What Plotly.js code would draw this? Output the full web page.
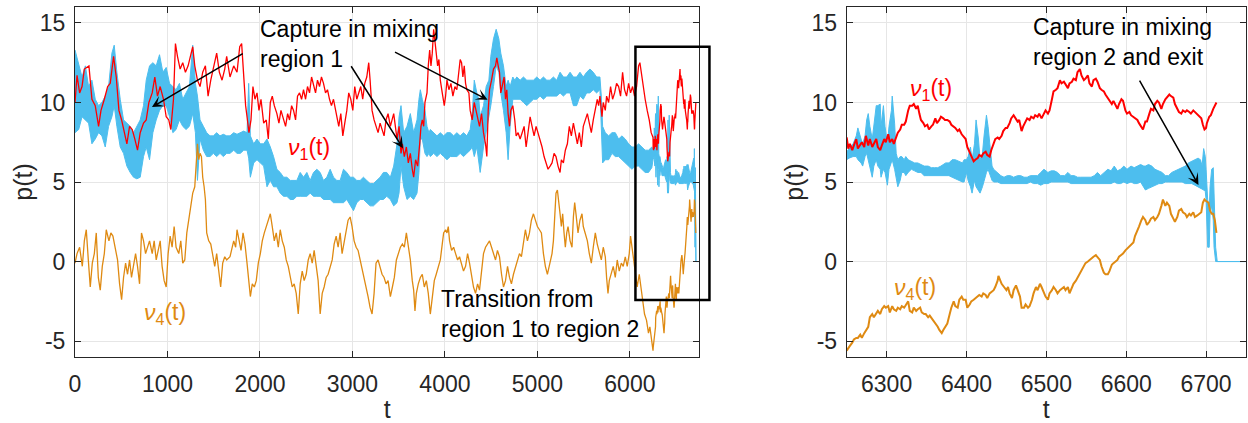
<!DOCTYPE html>
<html>
<head>
<meta charset="utf-8">
<script src="https://cdn.plot.ly/plotly-3.0.1.min.js"></script>
<style>html,body{margin:0;padding:0;background:#fff;}#chart{width:1248px;height:423px;}</style>
</head>
<body>
<div id="chart"></div>
<script>
// ---- data (t, p) ----
const leftRed = [[0,10.0],[22,11.7],[50,10.6],[76,11.0],[101,12.1],[129,12.2],[151,12.3],[183,10.2],[219,9.8],[255,8.5],[281,9.5],[317,10.2],[353,11.0],[381,11.2],[417,12.9],[446,11.6],[475,9.5],[504,8.9],[532,8.1],[561,7.4],[590,8.5],[619,8.3],[647,7.7],[676,7.0],[705,8.1],[741,8.7],[770,8.9],[799,10.0],[835,10.6],[863,11.6],[892,10.4],[921,11.0],[957,10.2],[986,9.1],[1014,8.9],[1036,8.3],[1065,10.2],[1086,13.7],[1108,12.9],[1137,12.1],[1165,12.5],[1194,11.9],[1223,12.3],[1252,12.9],[1273,13.5],[1295,12.3],[1324,11.4],[1352,11.0],[1381,11.9],[1410,12.3],[1439,10.4],[1468,11.4],[1504,12.3],[1532,13.1],[1561,11.9],[1590,11.4],[1619,12.1],[1640,12.9],[1676,11.6],[1716,12.3],[1752,11.9],[1781,13.5],[1802,13.7],[1817,12.3],[1831,11.0],[1845,9.8],[1860,9.1],[1881,8.1],[1903,8.9],[1924,11.0],[1946,10.2],[1968,10.6],[1989,9.5],[2011,10.2],[2040,8.7],[2068,8.9],[2090,7.7],[2112,10.0],[2133,10.4],[2155,9.8],[2183,9.3],[2205,8.7],[2227,9.5],[2255,8.9],[2277,8.5],[2299,9.3],[2320,8.9],[2342,9.8],[2363,9.5],[2385,8.9],[2406,10.4],[2428,10.6],[2450,10.2],[2471,10.8],[2493,10.2],[2514,11.0],[2536,10.6],[2558,11.6],[2579,11.0],[2601,10.6],[2622,11.4],[2644,11.0],[2665,11.6],[2687,11.2],[2709,10.6],[2730,10.8],[2752,10.2],[2773,9.8],[2795,10.2],[2817,9.5],[2831,9.1],[2852,8.5],[2874,9.3],[2896,7.9],[2917,8.7],[2939,9.5],[2960,10.6],[2982,10.2],[3004,9.5],[3025,11.0],[3047,10.2],[3068,10.6],[3090,11.0],[3111,10.2],[3133,11.2],[3155,11.6],[3176,12.5],[3191,11.4],[3212,9.5],[3234,8.9],[3255,8.5],[3277,8.1],[3299,8.7],[3320,8.3],[3342,7.9],[3363,8.9],[3385,9.3],[3410,8.5],[3446,9.3],[3482,7.7],[3504,8.5],[3525,6.8],[3540,7.4],[3561,6.6],[3583,7.2],[3604,6.2],[3626,6.8],[3647,5.8],[3662,5.3],[3683,6.4],[3705,6.0],[3727,7.4],[3741,8.5],[3755,8.9],[3770,8.5],[3784,10.0],[3806,10.6],[3820,12.3],[3835,13.3],[3849,12.3],[3863,13.1],[3878,14.6],[3892,13.7],[3906,12.9],[3921,12.3],[3935,12.7],[3950,11.4],[3971,10.6],[3993,9.8],[4007,10.4],[4022,11.4],[4043,10.8],[4065,11.2],[4086,10.4],[4108,11.0],[4129,10.8],[4151,11.9],[4165,12.7],[4180,12.5],[4194,11.6],[4209,12.3],[4223,11.2],[4237,10.8],[4259,10.6],[4273,9.5],[4295,8.9],[4317,10.0],[4338,9.5],[4360,8.9],[4374,8.5],[4396,9.3],[4417,8.1],[4439,7.4],[4453,6.6],[4468,9.5],[4482,10.8],[4504,11.4],[4525,12.1],[4547,12.3],[4561,12.8],[4576,12.3],[4590,11.9],[4604,10.6],[4619,11.0],[4640,11.6],[4655,10.2],[4669,10.8],[4683,9.3],[4698,8.5],[4712,9.5],[4734,9.8],[4755,8.9],[4770,7.9],[4791,8.1],[4813,7.7],[4835,8.1],[4856,8.5],[4878,7.2],[4899,8.1],[4921,9.1],[4942,8.5],[4964,7.9],[4986,8.5],[5007,8.1],[5029,7.7],[5050,7.2],[5072,6.6],[5093,6.2],[5115,5.8],[5137,6.0],[5158,6.2],[5180,6.8],[5201,6.6],[5223,6.0],[5245,5.6],[5259,6.4],[5281,6.2],[5302,7.0],[5324,7.4],[5345,8.5],[5367,7.9],[5389,8.7],[5410,8.1],[5432,7.4],[5453,8.1],[5475,7.2],[5496,8.5],[5518,8.9],[5540,9.3],[5561,8.7],[5583,8.1],[5604,8.9],[5626,9.5],[5647,10.2],[5662,9.8],[5676,10.4],[5698,9.1],[5712,10.0],[5734,9.5],[5748,10.4],[5770,10.0],[5791,11.0],[5813,10.2],[5835,10.6],[5856,11.2],[5878,11.0],[5899,10.4],[5921,11.9],[5942,10.8],[5964,10.4],[5986,11.2],[6007,10.6],[6029,11.0],[6050,10.4],[6072,11.0],[6094,12.3],[6108,12.5],[6122,11.9],[6144,10.8],[6165,10.2],[6187,9.5],[6209,8.9],[6230,8.1]];

const leftOrange = [[0,-0.1],[22,0.5],[50,0.9],[79,-0.3],[101,1.3],[122,2.0],[144,0.1],[165,-1.6],[187,-0.1],[209,0.5],[230,1.8],[252,-1.0],[273,-1.8],[295,-0.3],[317,0.5],[338,2.0],[367,1.3],[388,1.8],[410,1.6],[432,0.9],[460,0.1],[482,-1.4],[504,-2.4],[525,-1.0],[547,-0.1],[568,-0.8],[590,0.1],[611,-1.0],[633,-0.3],[655,0.5],[676,-0.3],[698,-1.4],[719,1.8],[741,1.3],[763,0.5],[784,0.9],[806,1.3],[835,0.5],[856,1.3],[878,0.1],[899,0.7],[921,1.3],[942,-0.3],[964,-1.2],[986,-1.6],[1007,0.5],[1029,1.6],[1050,0.9],[1072,2.2],[1093,0.9],[1122,0.5],[1144,1.3],[1165,-0.1],[1187,0.1],[1209,1.8],[1230,2.6],[1252,3.7],[1273,4.3],[1295,4.7],[1309,6.0],[1324,7.4],[1338,6.4],[1352,6.8],[1367,6.6],[1381,5.3],[1396,4.7],[1410,3.9],[1424,1.8],[1446,1.3],[1468,1.1],[1489,0.5],[1511,-0.3],[1532,0.5],[1554,-0.8],[1575,-1.6],[1597,-0.1],[1619,0.3],[1640,0.1],[1676,0.3],[1716,1.3],[1737,0.9],[1752,2.0],[1773,1.3],[1795,0.7],[1817,1.8],[1838,1.1],[1860,-0.1],[1881,-1.2],[1896,-2.2],[1917,-1.4],[1939,-1.6],[1960,-1.2],[1982,-0.1],[2004,0.5],[2025,1.3],[2047,1.8],[2068,2.2],[2090,2.6],[2112,3.0],[2133,2.2],[2155,1.3],[2176,1.8],[2198,0.9],[2219,2.0],[2241,1.3],[2263,0.9],[2284,0.1],[2306,-0.3],[2327,-1.0],[2349,-1.6],[2370,-1.4],[2392,-2.0],[2414,-3.3],[2435,-1.4],[2457,-0.6],[2478,-1.2],[2500,-0.8],[2522,0.1],[2543,0.5],[2565,-0.1],[2586,0.7],[2608,-0.3],[2629,-1.2],[2651,-3.3],[2673,-2.0],[2694,-1.6],[2716,-1.0],[2737,-0.8],[2759,-0.3],[2781,0.1],[2802,1.1],[2824,1.6],[2845,0.9],[2867,1.8],[2888,0.5],[2910,1.3],[2932,2.0],[2953,2.6],[2975,2.8],[2996,2.2],[3018,1.3],[3040,0.9],[3061,0.7],[3083,0.1],[3104,-0.3],[3126,-1.0],[3148,-1.6],[3169,-2.2],[3191,-2.9],[3212,-3.3],[3234,-2.0],[3255,-0.1],[3277,0.1],[3299,-0.3],[3320,-0.8],[3342,-1.0],[3363,-1.4],[3385,-1.2],[3410,-2.2],[3432,-1.6],[3453,-1.0],[3475,0.1],[3496,0.5],[3518,0.9],[3540,1.1],[3561,0.9],[3583,1.8],[3604,0.9],[3626,0.1],[3647,-1.2],[3662,-1.8],[3676,-3.1],[3691,-2.0],[3712,-1.4],[3734,-1.0],[3755,-0.8],[3777,-1.6],[3799,-1.2],[3820,-2.0],[3842,-3.3],[3863,-2.4],[3885,-1.2],[3906,-0.8],[3928,-0.3],[3950,0.1],[3971,1.1],[3986,1.8],[4007,2.0],[4022,1.8],[4036,2.2],[4050,1.3],[4072,0.7],[4094,0.9],[4115,0.5],[4137,0.1],[4158,0.3],[4180,-0.1],[4201,-0.6],[4223,-0.3],[4245,0.5],[4266,-0.1],[4288,-1.0],[4309,-1.6],[4331,-2.0],[4353,-1.4],[4374,-1.8],[4396,-0.8],[4417,0.5],[4439,0.9],[4460,1.1],[4482,1.3],[4504,0.9],[4525,0.5],[4547,0.1],[4568,0.7],[4590,0.3],[4612,-0.8],[4633,-1.6],[4655,-1.2],[4677,-0.3],[4698,-1.0],[4719,-1.4],[4741,-0.8],[4763,-0.3],[4784,0.1],[4806,0.5],[4827,0.3],[4849,1.3],[4870,2.0],[4892,1.3],[4914,1.8],[4935,2.6],[4957,3.0],[4978,2.6],[5000,2.2],[5022,2.0],[5043,1.8],[5065,0.5],[5086,-0.3],[5108,-0.8],[5137,-0.1],[5158,0.5],[5173,1.3],[5187,2.6],[5201,4.3],[5216,4.5],[5230,3.9],[5245,3.0],[5259,2.2],[5273,3.0],[5288,1.8],[5302,0.9],[5317,1.8],[5331,2.2],[5353,1.3],[5374,0.9],[5389,2.8],[5403,3.7],[5417,3.0],[5439,1.8],[5460,2.6],[5482,3.0],[5496,2.2],[5518,1.8],[5540,1.3],[5561,0.5],[5583,-0.1],[5604,0.9],[5626,1.8],[5647,1.1],[5669,0.5],[5691,0.1],[5712,0.9],[5734,0.3],[5748,-1.0],[5763,-2.0],[5777,-1.2],[5799,-0.8],[5820,-0.3],[5842,-1.0],[5863,0.1],[5885,-0.6],[5907,-0.1],[5928,-0.3],[5950,0.3],[5971,-0.3],[5993,0.5],[6007,1.6],[6022,0.9],[6043,-0.1],[6065,-1.0],[6079,-1.6],[6101,-0.8],[6115,-1.4],[6137,-2.7],[6158,-3.3],[6180,-3.7],[6201,-4.5],[6216,-4.1],[6237,-5.2]];

// blue: [t, upper edge, lower edge] of the fast-oscillating band
const leftBlue = [[0,13.3,8.1],[40,12.3,8.3],[76,11.6,9.1],[112,12.3,8.9],[147,11.0,8.7],[183,11.4,7.4],[219,10.2,7.7],[255,9.8,8.1],[291,10.0,7.9],[327,10.4,7.2],[363,11.0,8.5],[399,13.1,9.1],[424,13.6,9.8],[453,11.9,8.5],[489,10.2,7.2],[525,8.9,6.8],[561,8.7,6.0],[597,8.5,5.6],[633,8.1,5.3],[669,8.5,5.2],[705,8.9,5.3],[741,9.8,6.6],[770,11.4,7.2],[806,12.3,6.4],[842,12.5,8.1],[878,12.3,8.9],[914,13.0,9.5],[950,11.9,9.8],[986,12.2,9.8],[1022,11.2,9.1],[1058,11.0,8.1],[1093,10.8,8.3],[1129,11.2,8.9],[1165,10.2,8.5],[1201,10.6,8.3],[1237,11.0,8.5],[1273,13.6,9.3],[1302,11.2,8.1],[1324,10.4,5.1],[1352,8.9,7.7],[1388,8.5,7.0],[1424,8.1,6.6],[1460,7.9,6.6],[1496,7.9,6.8],[1532,8.1,6.6],[1568,7.9,6.8],[1604,8.0,6.6],[1640,7.9,6.8],[1676,7.9,6.8],[1716,8.1,7.0],[1752,8.0,6.8],[1788,8.1,6.8],[1824,8.2,7.0],[1860,8.1,7.0],[1878,11.2,6.5],[1896,7.9,5.3],[1932,7.4,6.2],[1968,7.7,6.4],[2004,7.4,6.2],[2040,7.4,6.0],[2076,7.7,4.7],[2112,7.2,5.1],[2147,6.6,4.7],[2183,5.8,4.7],[2219,5.6,4.3],[2255,5.3,4.1],[2291,5.3,4.1],[2327,5.1,3.9],[2363,5.1,3.9],[2399,5.1,4.1],[2435,5.6,4.1],[2471,5.3,4.1],[2507,5.6,4.1],[2543,5.1,4.3],[2579,5.6,4.1],[2615,5.8,4.1],[2651,5.6,4.1],[2687,5.1,3.9],[2723,5.3,3.9],[2759,5.8,3.9],[2795,5.3,3.7],[2831,5.1,3.7],[2867,5.1,3.7],[2903,5.8,3.7],[2939,5.6,3.9],[2975,5.3,3.5],[3011,5.3,3.2],[3047,5.1,3.7],[3083,5.1,3.9],[3119,5.3,3.9],[3155,5.1,3.7],[3191,4.9,3.5],[3227,4.9,3.5],[3263,5.1,3.7],[3299,5.3,3.9],[3335,5.6,3.9],[3371,5.6,4.1],[3410,5.3,3.9],[3446,6.0,3.5],[3482,7.4,3.7],[3504,9.1,4.3],[3525,9.8,6.0],[3554,8.1,4.7],[3590,8.5,3.9],[3626,9.3,4.1],[3662,8.1,3.9],[3698,8.9,4.3],[3719,10.2,5.6],[3734,10.8,7.7],[3755,10.2,7.7],[3784,9.5,6.8],[3806,8.5,6.6],[3827,8.1,6.8],[3842,8.3,6.6],[3878,8.1,6.8],[3914,7.9,6.6],[3950,8.1,6.8],[3986,7.9,6.6],[4022,8.1,6.4],[4058,8.1,6.6],[4094,7.9,6.6],[4129,8.1,6.6],[4165,7.9,6.8],[4201,8.1,6.6],[4237,7.9,6.8],[4273,8.3,7.0],[4295,9.3,7.2],[4317,11.4,6.6],[4345,10.6,7.2],[4367,10.2,6.0],[4381,9.1,5.6],[4417,9.8,7.2],[4446,11.0,8.1],[4475,11.4,9.1],[4496,12.9,9.8],[4525,14.0,11.0],[4554,14.6,12.3],[4583,14.0,11.9],[4604,13.1,10.6],[4633,12.3,9.5],[4662,11.0,8.1],[4683,11.4,6.4],[4705,11.0,8.5],[4734,11.6,10.2],[4755,11.4,10.2],[4777,11.6,10.2],[4813,11.4,10.2],[4849,11.6,10.0],[4885,11.4,9.8],[4921,11.4,10.0],[4957,11.4,10.2],[4993,11.6,10.2],[5029,11.4,10.4],[5065,11.6,10.2],[5101,11.4,10.4],[5137,11.4,10.4],[5173,11.6,10.4],[5209,11.4,10.4],[5245,11.9,10.6],[5281,11.6,10.4],[5317,11.6,10.6],[5353,11.9,10.6],[5389,11.6,9.8],[5424,11.6,9.8],[5460,11.9,10.4],[5496,11.6,10.2],[5532,11.9,10.6],[5568,12.1,10.6],[5604,11.9,10.8],[5640,11.6,10.6],[5676,11.6,10.8],[5691,10.4,8.1],[5705,8.5,6.2],[5734,8.1,6.4],[5770,7.9,6.4],[5806,8.1,6.8],[5842,8.1,6.6],[5878,7.7,6.6],[5914,7.9,6.4],[5950,7.7,6.2],[5986,7.4,6.0],[6022,7.2,5.8],[6058,7.2,6.0],[6094,7.4,6.0],[6129,7.2,5.8],[6165,7.0,5.6],[6201,7.0,5.6],[6237,7.2,5.9]];

const rightRed = [[6250,7.8],[6252,7.1],[6254,7.4],[6257,7.0],[6259,7.3],[6262,7.7],[6264,7.1],[6267,7.3],[6269,7.5],[6272,7.2],[6274,7.9],[6277,7.3],[6279,7.7],[6282,7.2],[6284,7.4],[6287,7.7],[6289,7.2],[6292,7.0],[6294,7.3],[6297,7.7],[6299,7.5],[6302,8.0],[6304,7.5],[6307,7.7],[6309,7.4],[6312,7.9],[6314,8.1],[6317,8.3],[6319,8.6],[6322,8.6],[6324,8.8],[6327,9.5],[6329,9.8],[6332,9.8],[6334,9.9],[6337,9.6],[6339,9.8],[6341,9.3],[6343,8.9],[6346,8.7],[6348,8.5],[6351,8.6],[6353,8.3],[6356,8.5],[6358,8.6],[6361,9.0],[6363,8.7],[6366,8.9],[6368,9.1],[6371,9.0],[6373,8.9],[6376,8.9],[6379,8.8],[6381,8.6],[6384,8.5],[6386,8.4],[6389,8.2],[6391,8.3],[6394,8.0],[6396,7.9],[6399,7.7],[6401,7.2],[6404,6.9],[6406,6.7],[6409,6.3],[6411,6.4],[6414,6.5],[6416,6.7],[6419,6.6],[6421,6.8],[6424,6.9],[6426,6.7],[6429,6.6],[6431,7.0],[6434,7.5],[6436,7.7],[6439,7.8],[6441,7.7],[6444,7.9],[6446,8.2],[6449,8.4],[6451,8.4],[6454,8.7],[6456,9.0],[6459,9.2],[6461,9.0],[6464,8.8],[6466,8.9],[6469,8.2],[6471,8.5],[6474,8.8],[6476,9.0],[6479,8.9],[6481,9.1],[6484,9.0],[6486,9.2],[6489,9.1],[6491,9.3],[6494,9.0],[6496,9.2],[6499,9.5],[6502,9.3],[6504,9.5],[6507,10.2],[6509,10.7],[6512,10.8],[6514,10.9],[6517,11.4],[6519,11.2],[6522,11.3],[6524,11.1],[6527,10.9],[6529,11.2],[6532,11.3],[6534,11.5],[6537,11.4],[6539,11.9],[6542,12.1],[6544,11.7],[6547,11.4],[6549,11.5],[6552,11.7],[6554,11.2],[6557,11.0],[6559,11.4],[6562,11.5],[6564,11.3],[6567,10.9],[6569,10.8],[6572,10.7],[6574,10.5],[6577,10.3],[6579,10.1],[6582,9.9],[6584,10.1],[6587,9.8],[6589,9.6],[6591,9.9],[6594,10.2],[6596,10.1],[6599,9.5],[6601,9.3],[6604,9.4],[6606,9.2],[6609,9.1],[6611,9.0],[6614,8.9],[6616,8.7],[6619,8.5],[6621,8.3],[6624,8.8],[6626,8.8],[6629,9.3],[6631,9.6],[6634,9.5],[6636,9.9],[6639,10.1],[6641,10.0],[6644,9.6],[6646,9.9],[6649,10.2],[6651,10.3],[6654,10.5],[6656,10.4],[6659,10.3],[6661,9.9],[6664,9.6],[6666,9.4],[6669,9.3],[6671,9.5],[6674,9.4],[6676,9.5],[6679,9.4],[6681,9.3],[6684,9.5],[6686,9.4],[6689,9.3],[6691,9.2],[6694,9.0],[6696,8.6],[6698,8.3],[6700,8.4],[6701,8.7],[6704,9.1],[6706,9.2],[6709,9.6],[6711,9.8],[6713,10.0]];

const rightOrange = [[6250,-5.6],[6252,-5.4],[6254,-5.3],[6257,-5.1],[6259,-4.9],[6262,-4.8],[6264,-4.8],[6267,-4.6],[6269,-4.8],[6272,-4.5],[6274,-4.3],[6277,-4.1],[6279,-3.5],[6282,-3.3],[6284,-3.5],[6287,-3.3],[6289,-3.1],[6292,-3.3],[6294,-3.0],[6297,-2.8],[6299,-2.9],[6302,-2.8],[6304,-3.2],[6307,-2.8],[6309,-3.0],[6312,-3.1],[6314,-2.9],[6317,-3.0],[6319,-2.8],[6322,-2.9],[6324,-2.7],[6327,-2.5],[6329,-3.1],[6332,-3.2],[6334,-2.9],[6337,-3.1],[6339,-3.0],[6342,-2.9],[6344,-3.2],[6347,-3.3],[6349,-3.3],[6352,-3.5],[6354,-3.4],[6357,-3.6],[6359,-3.7],[6362,-3.9],[6364,-4.1],[6366,-4.3],[6369,-4.5],[6371,-4.3],[6374,-4.0],[6376,-3.9],[6379,-3.3],[6381,-2.9],[6384,-2.5],[6386,-2.8],[6389,-2.9],[6391,-2.4],[6394,-2.2],[6396,-2.4],[6399,-2.4],[6401,-2.9],[6404,-2.7],[6406,-2.5],[6409,-2.4],[6411,-2.3],[6414,-2.2],[6416,-2.1],[6419,-2.2],[6421,-2.0],[6424,-2.1],[6426,-2.3],[6429,-2.0],[6431,-1.9],[6434,-1.8],[6436,-1.6],[6439,-1.2],[6440,-0.9],[6442,-1.2],[6444,-1.4],[6447,-1.6],[6450,-1.8],[6452,-1.6],[6454,-2.0],[6457,-2.3],[6459,-1.8],[6462,-1.5],[6464,-1.8],[6467,-2.2],[6469,-2.9],[6472,-2.9],[6474,-2.7],[6477,-2.9],[6479,-2.8],[6482,-2.4],[6484,-2.0],[6487,-1.6],[6489,-1.8],[6492,-1.4],[6494,-1.6],[6497,-2.0],[6499,-2.2],[6502,-2.4],[6504,-2.0],[6507,-1.8],[6509,-1.6],[6512,-1.8],[6514,-2.0],[6517,-1.8],[6519,-1.7],[6522,-1.6],[6524,-1.8],[6527,-1.6],[6529,-2.0],[6532,-1.6],[6534,-1.4],[6537,-1.2],[6539,-1.0],[6542,-0.8],[6544,-0.6],[6547,-0.3],[6549,-0.1],[6552,0.0],[6554,0.1],[6557,0.2],[6559,0.3],[6562,0.4],[6564,0.3],[6567,0.1],[6569,-0.3],[6572,-0.7],[6574,-0.8],[6577,-0.8],[6579,-0.6],[6582,-0.2],[6584,-0.1],[6587,0.0],[6589,0.1],[6591,0.3],[6594,0.4],[6596,0.5],[6599,0.7],[6601,0.8],[6604,0.9],[6606,1.0],[6609,1.2],[6611,1.6],[6614,1.9],[6616,2.2],[6619,2.6],[6621,2.8],[6624,2.6],[6626,2.3],[6629,2.5],[6631,2.7],[6634,2.8],[6636,2.6],[6639,2.8],[6641,3.0],[6644,3.5],[6646,3.9],[6649,3.5],[6651,3.7],[6654,3.5],[6656,3.0],[6659,2.7],[6661,2.5],[6664,2.8],[6666,3.2],[6669,3.3],[6671,3.1],[6674,3.0],[6676,2.8],[6679,3.0],[6681,2.9],[6684,3.1],[6686,2.8],[6689,2.9],[6691,3.0],[6694,3.1],[6696,3.7],[6698,3.9],[6700,3.8],[6703,3.7],[6705,3.2],[6707,3.0],[6709,3.0],[6711,2.6],[6713,1.8]];

const rightBlue = [[6250,6.9,6.4],[6253,7.1,6.5],[6258,7.4,6.6],[6262,7.9,6.6],[6264,8.4,6.4],[6268,7.7,6.2],[6270,7.4,6.0],[6273,7.9,6.6],[6275,8.9,6.8],[6277,9.3,6.4],[6279,8.5,6.0],[6282,7.7,5.3],[6284,8.5,6.0],[6287,9.8,6.4],[6289,9.8,6.0],[6292,9.9,5.8],[6293,8.5,5.3],[6296,9.8,5.8],[6298,8.5,5.6],[6301,7.4,4.8],[6303,8.5,5.8],[6306,9.5,6.2],[6307,10.4,6.4],[6310,8.7,5.8],[6312,6.8,5.1],[6314,6.4,4.7],[6317,6.6,5.1],[6319,6.6,5.6],[6322,6.4,5.6],[6324,6.6,5.4],[6327,6.4,5.6],[6331,6.3,5.8],[6335,6.2,5.7],[6339,6.2,5.6],[6343,6.1,5.6],[6347,6.0,5.4],[6352,6.0,5.4],[6356,5.9,5.4],[6360,5.9,5.4],[6364,5.9,5.4],[6368,6.0,5.4],[6372,6.1,5.4],[6374,6.2,5.4],[6378,6.2,5.4],[6382,6.4,5.3],[6386,6.4,5.2],[6390,6.3,5.1],[6395,6.2,5.0],[6397,6.4,5.0],[6400,6.4,5.6],[6402,6.6,5.1],[6405,7.2,4.7],[6407,6.4,4.3],[6410,7.4,5.1],[6412,8.9,4.7],[6415,7.7,4.5],[6417,6.4,4.3],[6420,6.8,4.7],[6422,7.9,5.1],[6425,9.2,5.6],[6427,8.5,5.8],[6430,6.8,5.3],[6432,6.0,5.1],[6434,5.8,5.0],[6439,5.6,5.0],[6443,5.4,4.9],[6447,5.3,4.9],[6451,5.4,4.9],[6455,5.4,4.9],[6459,5.3,4.9],[6464,5.4,4.9],[6468,5.4,4.9],[6472,5.3,4.9],[6476,5.3,4.9],[6480,5.4,5.0],[6484,5.4,4.9],[6489,5.4,4.9],[6493,5.6,4.8],[6497,5.8,4.9],[6502,5.6,4.9],[6506,5.7,5.0],[6510,5.7,5.0],[6514,5.6,5.0],[6518,5.4,5.0],[6523,5.4,5.0],[6527,5.6,5.0],[6531,5.4,4.9],[6535,5.4,4.9],[6539,5.3,4.9],[6543,5.3,4.9],[6547,5.3,4.9],[6552,5.3,4.9],[6556,5.3,4.9],[6560,5.4,4.9],[6564,5.6,4.9],[6568,5.4,4.9],[6572,5.6,4.9],[6577,5.8,4.9],[6581,5.7,4.9],[6585,6.0,5.0],[6589,5.7,4.9],[6593,5.8,4.9],[6597,6.0,5.0],[6601,5.8,4.9],[6606,6.0,5.0],[6610,5.9,4.9],[6614,6.0,4.9],[6618,6.1,5.0],[6622,6.0,4.7],[6624,6.0,4.5],[6628,6.1,4.6],[6632,6.0,4.7],[6636,5.8,4.8],[6641,5.7,4.9],[6645,5.6,4.9],[6649,5.4,5.0],[6653,5.4,5.0],[6657,5.6,5.0],[6661,5.7,5.0],[6665,5.8,5.0],[6670,5.9,5.0],[6674,6.0,4.9],[6678,6.2,4.9],[6682,6.3,4.9],[6686,6.4,4.8],[6690,6.5,4.7],[6693,6.4,4.6],[6695,6.0,4.6],[6697,7.1,4.5],[6699,6.6,4.4],[6700,5.8,3.9],[6702,3.9,0.9],[6704,3.2,0.9],[6705,4.7,3.0],[6707,5.8,3.5],[6709,5.9,2.6],[6710,4.3,0.9],[6712,0.9,0.0],[6714,0.0,0.0],[6750,0.0,0.0]];

const xTicksLeft = [0,1000,2000,3000,4000,5000,6000];
const xTicksRight = [6300,6400,6500,6600,6700];
const yTicks = [-5,0,5,10,15];
const yTickLabels = ['-5','0','5','10','15'];

// ---- styles ----
const BLUE = '#4DBEEE', RED = '#FF0000', ORANGE = '#DF8A12', AX = '#262626';
const FONT = 'Liberation Sans, Arial, Helvetica, sans-serif';

const col = (arr, i) => arr.map(r => r[i]);
const allBlue = leftBlue.concat(rightBlue);
const allRed = leftRed.concat(rightRed);
const allOrange = leftOrange.concat(rightOrange);

function bandTraces(arr, xa, ya, w) {
  return [
    {x: col(arr,0), y: col(arr,2), xaxis: xa, yaxis: ya, type: 'scatter', mode: 'lines',
     line: {color: BLUE, width: w}, hoverinfo: 'skip'},
    {x: col(arr,0), y: col(arr,1), xaxis: xa, yaxis: ya, type: 'scatter', mode: 'lines',
     line: {color: BLUE, width: w}, fill: 'tonexty', fillcolor: BLUE, hoverinfo: 'skip'}
  ];
}
function lineTrace(arr, xa, ya, color, w) {
  return {x: col(arr,0), y: col(arr,1), xaxis: xa, yaxis: ya, type: 'scatter', mode: 'lines',
          line: {color: color, width: w}, hoverinfo: 'skip'};
}

const traces = [
  ...bandTraces(allBlue, 'x', 'y', 1),
  lineTrace(allOrange, 'x', 'y', ORANGE, 1.3),
  lineTrace(allRed, 'x', 'y', RED, 1.3),
  ...bandTraces(rightBlue, 'x2', 'y2', 1),
  lineTrace(rightOrange, 'x2', 'y2', ORANGE, 2),
  lineTrace(rightRed, 'x2', 'y2', RED, 2)
];

function axisBase() {
  return {
    ticks: 'inside', ticklen: 6, tickwidth: 1, tickcolor: AX,
    showline: true, linecolor: AX, linewidth: 1, mirror: 'ticks',
    showgrid: true, gridcolor: '#e6e6e6', gridwidth: 1, zeroline: false,
    tickfont: {family: FONT, size: 23, color: AX}, fixedrange: true
  };
}

const layout = {
  width: 1248, height: 423,
  margin: {l: 75, r: 2, t: 7, b: 66},
  paper_bgcolor: '#ffffff', plot_bgcolor: '#ffffff',
  showlegend: false,
  font: {family: FONT, size: 23, color: AX},
  xaxis: Object.assign(axisBase(), {domain: [0, 0.5331], range: [0, 6750], tickvals: xTicksLeft,
    anchor: 'y', ticklabelstandoff: 6, title: {text: 't', font: {size: 25, color: AX}, standoff: 4}}),
  yaxis: Object.assign(axisBase(), {domain: [0, 1], range: [-6, 16], tickvals: yTicks, ticktext: yTickLabels,
    anchor: 'x', ticklabelstandoff: 4, title: {text: 'p(t)', font: {size: 25, color: AX}, standoff: 0}}),
  xaxis2: Object.assign(axisBase(), {domain: [0.659, 1], range: [6250, 6750], tickvals: xTicksRight,
    anchor: 'y2', ticklabelstandoff: 6, title: {text: 't', font: {size: 25, color: AX}, standoff: 4}}),
  yaxis2: Object.assign(axisBase(), {domain: [0, 1], range: [-6, 16], tickvals: yTicks, ticktext: yTickLabels,
    anchor: 'x2', ticklabelstandoff: 4, title: {text: 'p(t)', font: {size: 25, color: AX}, standoff: 0}}),
  shapes: [
    {type: 'rect', xref: 'paper', yref: 'paper', x0: 0.4786, x1: 0.5418, y0: 0.1629, y1: 0.8866,
     line: {color: '#000000', width: 2.5}, fillcolor: 'rgba(0,0,0,0)', layer: 'above'}
  ],
  annotations: [
    {xref: 'x', yref: 'y', x: 1974, y: 13.7, text: 'Capture in mixing<br>region 1', showarrow: false,
     xanchor: 'left', yanchor: 'middle', align: 'left', font: {family: FONT, size: 23, color: '#000'}},
    {xref: 'x', yref: 'y', axref: 'x', ayref: 'y', x: 832, y: 9.71, ax: 1830, ay: 13.13, text: '',
     showarrow: true, arrowhead: 3, arrowsize: 1.3, arrowwidth: 1.5, arrowcolor: '#000'},
    {xref: 'x', yref: 'y', axref: 'x', ayref: 'y', x: 3546, y: 7.12, ax: 2976, ay: 12.37, text: '',
     showarrow: true, arrowhead: 3, arrowsize: 1.3, arrowwidth: 1.5, arrowcolor: '#000'},
    {xref: 'x', yref: 'y', axref: 'x', ayref: 'y', x: 4461, y: 10.17, ax: 3444, ay: 13.21, text: '',
     showarrow: true, arrowhead: 3, arrowsize: 1.3, arrowwidth: 1.5, arrowcolor: '#000'},
    {xref: 'x', yref: 'y', x: 2533, y: 7.1, text: '<i>ν</i><sub>1</sub>(t)', showarrow: false,
     xanchor: 'center', yanchor: 'middle', font: {family: FONT, size: 23, color: RED}},
    {xref: 'x', yref: 'y', x: 976, y: -3.25, text: '<i>ν</i><sub>4</sub>(t)', showarrow: false,
     xanchor: 'center', yanchor: 'middle', font: {family: FONT, size: 23, color: ORANGE}},
    {xref: 'x', yref: 'y', x: 3939, y: -3.32, text: 'Transition from<br>region 1 to region 2', showarrow: false,
     xanchor: 'left', yanchor: 'middle', align: 'left', font: {family: FONT, size: 23, color: '#000'}},
    {xref: 'x2', yref: 'y2', x: 6481, y: 13.82, text: 'Capture in mixing<br>region 2 and exit', showarrow: false,
     xanchor: 'left', yanchor: 'middle', align: 'left', font: {family: FONT, size: 23, color: '#000'}},
    {xref: 'x2', yref: 'y2', axref: 'x2', ayref: 'y2', x: 6690.5, y: 4.81, ax: 6615.7, ay: 11.47, text: '',
     showarrow: true, arrowhead: 3, arrowsize: 1.3, arrowwidth: 1.5, arrowcolor: '#000'},
    {xref: 'x2', yref: 'y2', x: 6356, y: 10.8, text: '<i>ν</i><sub>1</sub>(t)', showarrow: false,
     xanchor: 'center', yanchor: 'middle', font: {family: FONT, size: 23, color: RED}},
    {xref: 'x2', yref: 'y2', x: 6335, y: -1.68, text: '<i>ν</i><sub>4</sub>(t)', showarrow: false,
     xanchor: 'center', yanchor: 'middle', font: {family: FONT, size: 23, color: ORANGE}}
  ]
};

Plotly.newPlot('chart', traces, layout, {staticPlot: true, displayModeBar: false});
</script>
</body>
</html>
